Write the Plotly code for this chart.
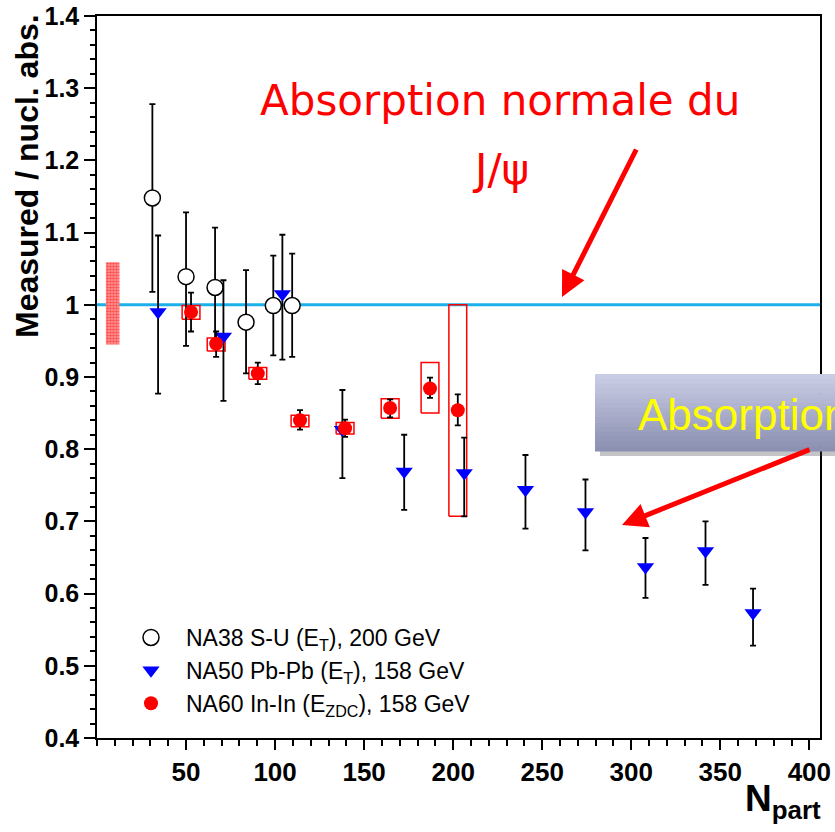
import plotly.graph_objects as go

# NA38 S-U (E_T), 200 GeV
na38_npart = [31.1, 50.0, 66.3, 83.7, 99.0, 109.6]
na38_ratio = [1.148, 1.039, 1.024, 0.976, 0.999, 0.999]
na38_hi = [1.278, 1.128, 1.107, 1.048, 1.068, 1.071]
na38_lo = [1.018, 0.943, 0.940, 0.905, 0.930, 0.928]

# NA50 Pb-Pb (E_T), 158 GeV
na50_npart = [34.3, 71.0, 104.1, 137.8, 172.5, 206.2, 240.6, 274.3, 308.0, 341.7, 368.4]
na50_ratio = [0.990, 0.956, 1.015, 0.827, 0.769, 0.767, 0.744, 0.713, 0.637, 0.659, 0.573]
na50_hi = [1.096, 1.034, 1.097, 0.882, 0.820, 0.816, 0.792, 0.758, 0.677, 0.700, 0.607]
na50_lo = [0.877, 0.867, 0.924, 0.760, 0.716, 0.707, 0.690, 0.660, 0.594, 0.612, 0.528]

# NA60 In-In (E_ZDC), 158 GeV  (stat. errors + systematic boxes)
na60_npart = [52.8, 66.9, 90.3, 114.0, 139.3, 164.6, 187.0, 202.6]
na60_ratio = [0.990, 0.946, 0.905, 0.840, 0.829, 0.857, 0.884, 0.854]
na60_hi = [1.017, 0.963, 0.920, 0.854, 0.841, 0.869, 0.899, 0.876]
na60_lo = [0.963, 0.928, 0.890, 0.827, 0.817, 0.844, 0.871, 0.833]
na60_sys_hi = [0.999, 0.954, 0.913, 0.847, 0.837, 0.870, 0.920, 1.000]
na60_sys_lo = [0.980, 0.936, 0.897, 0.831, 0.821, 0.843, 0.850, 0.707]
box_half = 5

# incertitude de normalisation (bande hachuree a gauche)
norm_x = [5, 12.6]
norm_y = [0.945, 1.059]

x_range = [0, 406]
y_range = [0.4, 1.4]
x_ticks = [50, 100, 150, 200, 250, 300, 350, 400]

FONT = 'Liberation Sans, Arial, sans-serif'


def px_x(px):
    return (px - 97) / 723


def px_y(py):
    return (738 - py) / 722


def err(vals, hi, lo):
    return ([h - v for v, h in zip(vals, hi)],
            [v - l for v, l in zip(vals, lo)])


fig = go.Figure()

# bande de normalisation
fig.add_trace(go.Scatter(
    x=[norm_x[0], norm_x[1], norm_x[1], norm_x[0], norm_x[0]],
    y=[norm_y[0], norm_y[0], norm_y[1], norm_y[1], norm_y[0]],
    mode='lines', fill='toself', line=dict(width=0),
    fillcolor='rgba(255,255,255,0)',
    fillpattern=dict(shape='.', fgcolor='#ff0000', bgcolor='#ffa0a0',
                     size=3, solidity=0.6),
    showlegend=False, hoverinfo='skip'
))

# boites systematiques NA60
bx, by = [], []
for xv, lo, hi in zip(na60_npart, na60_sys_lo, na60_sys_hi):
    bx += [xv - box_half, xv + box_half, xv + box_half, xv - box_half, xv - box_half, None]
    by += [lo, lo, hi, hi, lo, None]
fig.add_trace(go.Scatter(
    x=bx, y=by, mode='lines', line=dict(color='#ff0000', width=1.5),
    showlegend=False, hoverinfo='skip'
))

p, m = err(na38_ratio, na38_hi, na38_lo)
fig.add_trace(go.Scatter(
    x=na38_npart, y=na38_ratio, mode='markers',
    name='NA38 S-U (E<sub>T</sub>), 200 GeV',
    marker=dict(symbol='circle', size=16, color='white',
                line=dict(color='black', width=1.5)),
    error_y=dict(type='data', array=p, arrayminus=m, color='black',
                 thickness=1.8, width=3)
))

p, m = err(na50_ratio, na50_hi, na50_lo)
fig.add_trace(go.Scatter(
    x=na50_npart, y=na50_ratio, mode='markers',
    name='NA50 Pb-Pb (E<sub>T</sub>), 158 GeV',
    marker=dict(symbol='triangle-down', size=15, color='#0000ff'),
    error_y=dict(type='data', array=p, arrayminus=m, color='black',
                 thickness=1.8, width=3)
))

p, m = err(na60_ratio, na60_hi, na60_lo)
fig.add_trace(go.Scatter(
    x=na60_npart, y=na60_ratio, mode='markers',
    name='NA60 In-In (E<sub>ZDC</sub>), 158 GeV',
    marker=dict(symbol='circle', size=14, color='#ff0000'),
    error_y=dict(type='data', array=p, arrayminus=m, color='black',
                 thickness=1.8, width=3)
))

# ligne y = 1
fig.add_shape(type='line', xref='x', yref='y', x0=x_range[0], x1=x_range[1],
              y0=1, y1=1, line=dict(color='#1cb0ea', width=3), layer='below')

# boite "Absorption" (degrade simule par bandes)
fig.add_shape(type='rect', xref='paper', yref='paper',
              x0=px_x(600), x1=px_x(850), y0=px_y(456), y1=px_y(379),
              fillcolor='rgba(60,60,70,0.30)', line=dict(width=0), layer='above')
n_strips = 16
top, bot = 374, 451
step = (bot - top) / n_strips
for i in range(n_strips):
    t = i / (n_strips - 1)
    r = int(200 - t * 60)
    g = int(204 - t * 60)
    b = int(228 - t * 50)
    fig.add_shape(type='rect', xref='paper', yref='paper',
                  x0=px_x(595), x1=px_x(850),
                  y0=px_y(top + (i + 1) * step + 0.6), y1=px_y(top + i * step),
                  fillcolor=f'rgb({r},{g},{b})', line=dict(width=0), layer='above')

fig.add_annotation(text='Absorption', x=px_x(636), y=px_y(414),
                   xref='paper', yref='paper', xanchor='left', yanchor='middle',
                   showarrow=False, font=dict(family=FONT, size=44, color='#ffff00'))

fig.add_annotation(text='Absorption normale du', x=px_x(500), y=px_y(101),
                   xref='paper', yref='paper', xanchor='center', yanchor='middle',
                   showarrow=False, font=dict(family='DejaVu Sans', size=42, color='#ff0000'))
fig.add_annotation(text='J/ψ', x=px_x(500), y=px_y(170),
                   xref='paper', yref='paper', xanchor='center', yanchor='middle',
                   showarrow=False, font=dict(family='DejaVu Sans', size=42, color='#ff0000'))

# fleches
fig.add_annotation(text='', x=px_x(562), y=px_y(297), xref='paper', yref='paper',
                   ax=75, ay=-149, showarrow=True, arrowhead=2, arrowsize=1,
                   arrowwidth=5, arrowcolor='#ff0000')
fig.add_annotation(text='', x=px_x(622), y=px_y(525), xref='paper', yref='paper',
                   ax=189, ay=-76, showarrow=True, arrowhead=2, arrowsize=1,
                   arrowwidth=5, arrowcolor='#ff0000')

# titres des axes
fig.add_annotation(text='<b>Measured / nucl. abs.</b>', textangle=-90,
                   x=px_x(27), y=px_y(12), xref='paper', yref='paper',
                   xanchor='center', yanchor='top', showarrow=False,
                   font=dict(family=FONT, size=32, color='black'))
fig.add_annotation(text='<b>N<sub>part</sub></b>',
                   x=px_x(823), y=px_y(776), xref='paper', yref='paper',
                   xanchor='right', yanchor='top', showarrow=False,
                   font=dict(family=FONT, size=37, color='black'))

fig.update_xaxes(
    range=x_range, tickvals=x_ticks, ticks='outside', ticklen=10, tickwidth=1.5,
    tickcolor='black', showline=True, linecolor='black', linewidth=1.5, mirror=True,
    showgrid=False, zeroline=False, automargin=False,
    tickfont=dict(family=FONT, size=26, color='black', weight='bold'),
    minor=dict(tick0=0, dtick=10, ticks='outside', ticklen=6, tickcolor='black', tickwidth=1.5)
)
fig.update_yaxes(
    range=y_range, tick0=0.4, dtick=0.1, ticks='outside', ticklen=11, tickwidth=1.5,
    tickcolor='black', showline=True, linecolor='black', linewidth=1.5, mirror=True,
    showgrid=False, zeroline=False, automargin=False,
    tickfont=dict(family=FONT, size=25, color='black', weight='bold'),
    minor=dict(tick0=0.4, dtick=0.02, ticks='outside', ticklen=5, tickcolor='black', tickwidth=1.5)
)

fig.update_layout(
    width=835, height=832,
    margin=dict(l=97, r=15, t=16, b=94, autoexpand=False),
    paper_bgcolor='white', plot_bgcolor='white',
    showlegend=True,
    legend=dict(x=px_x(116), y=px_y(616), xanchor='left', yanchor='top',
                bgcolor='rgba(0,0,0,0)', borderwidth=0, tracegroupgap=0,
                font=dict(family=FONT, size=23, color='black'), itemwidth=60)
)

# la page n'a pas de marge: la figure occupe exactement la fenetre
fig.write_html('out.html', config={'displayModeBar': False},
               post_script="document.body.style.margin='0';")
